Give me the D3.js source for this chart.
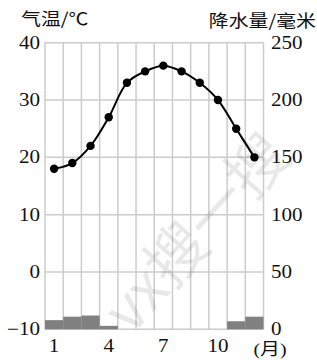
<!DOCTYPE html>
<html><head><meta charset="utf-8">
<script src="https://cdn.jsdelivr.net/npm/d3@7"></script>
<style>body{margin:0;background:#fff;}svg{display:block;}</style>
</head><body>
<script>
const months = [1,2,3,4,5,6,7,8,9,10,11,12];
const monthLabels = ["1","4","7","10"];
const temperature = [18,19,22,27,33,35,36,35,33,30,25,20];
const precipitation = [8,11,12,3,0,0,0,0,0,0,7,11];
const tempTicks = [-10,0,10,20,30,40];
const precipTicks = [0,50,100,150,200,250];

(function(){
const W = 317, H = 360;
const svg = d3.select("body").append("svg").attr("width", W).attr("height", H);
const pL = 45, pR = 263.5, pT = 42.7, pB = 329.3;
const SX = 1.17;

const x = d3.scaleBand().domain(months).range([pL, pR]).padding(0);
const yT = d3.scaleLinear().domain([-10, 40]).range([pB, pT]);
const yP = d3.scaleLinear().domain([0, 250]).range([pB, pT]);

const gridColor = "#cccccc";
svg.append("g").selectAll("line").data(months.concat([13])).join("line")
  .attr("x1", d => d <= 12 ? x(d) : pR).attr("x2", d => d <= 12 ? x(d) : pR)
  .attr("y1", pT).attr("y2", pB)
  .attr("stroke", gridColor).attr("stroke-width", 1.5);
svg.append("g").selectAll("line").data(tempTicks).join("line")
  .attr("x1", pL).attr("x2", pR)
  .attr("y1", d => yT(d)).attr("y2", d => yT(d))
  .attr("stroke", gridColor).attr("stroke-width", 1.5);

svg.append("text")
  .attr("transform", "translate(200,236) rotate(-48)")
  .attr("text-anchor", "middle").attr("dominant-baseline", "middle")
  .attr("font-family", "Noto Sans CJK SC").attr("font-size", 60)
  .attr("fill", "#000").attr("fill-opacity", 0.09)
  .text("vx搜一搜");

svg.append("g").selectAll("rect").data(months).join("rect")
  .attr("x", d => x(d)).attr("width", x.bandwidth())
  .attr("y", (d, i) => yP(precipitation[i]))
  .attr("height", (d, i) => pB - yP(precipitation[i]))
  .attr("fill", "#808080");

const line = d3.line().x((d, i) => x(months[i]) + x.bandwidth() / 2).y(d => yT(d)).curve(d3.curveCatmullRom);
svg.append("path").datum(temperature).attr("d", line)
  .attr("fill", "none").attr("stroke", "#000").attr("stroke-width", 2);
svg.append("g").selectAll("circle").data(temperature).join("circle")
  .attr("cx", (d, i) => x(months[i]) + x.bandwidth() / 2).attr("cy", d => yT(d))
  .attr("r", 4.2).attr("fill", "#000");

const num = "Liberation Serif, Times New Roman, serif";
function label(g, px, py, txt, anchor, family, size) {
  g.append("text").attr("transform", `translate(${px},${py}) scale(${SX},1)`)
    .attr("text-anchor", anchor).attr("font-family", family).attr("font-size", size)
    .attr("fill", "#111").text(txt);
}
tempTicks.forEach(d => label(svg, 40, yT(d) + 6, d < 0 ? "\u2212" + Math.abs(d) : String(d), "end", num, 18));
precipTicks.forEach(d => label(svg, 271, yP(d) + 6, String(d), "start", num, 18));
monthLabels.forEach(d => label(svg, x(+d) + x.bandwidth() / 2, 352, d, "middle", num, 18));
label(svg, 270, 355, "(月)", "middle", "Liberation Serif, Noto Sans CJK SC", 17);

label(svg, 21, 25, "气温/℃", "start", "Noto Sans CJK SC", 17);
label(svg, 316, 27, "降水量/毫米", "end", "Noto Sans CJK SC", 17);
})();
</script>
</body></html>
